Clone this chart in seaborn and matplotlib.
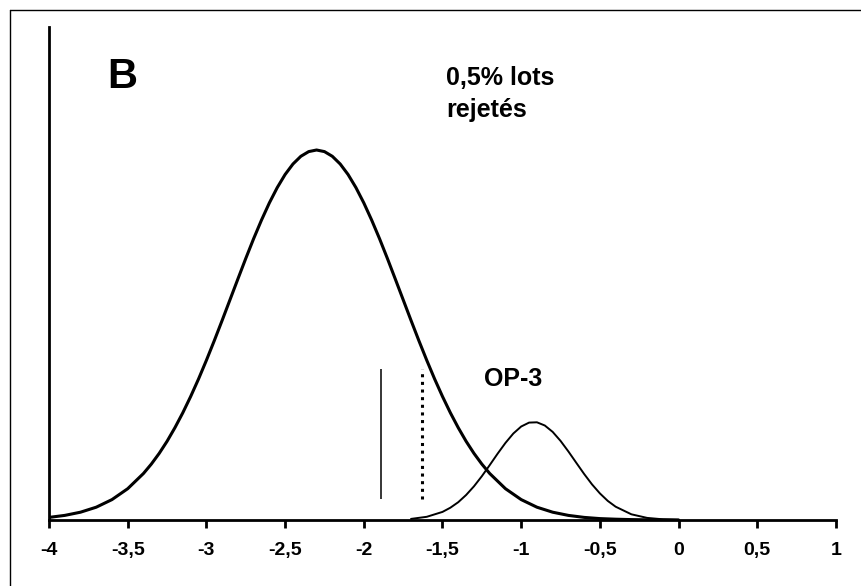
import matplotlib
matplotlib.use("Agg")
import matplotlib.pyplot as plt
from matplotlib.lines import Line2D
import seaborn as sns
import pandas as pd

# Courbe principale (lots)
big_x = [-4.0, -3.9, -3.8, -3.7, -3.6, -3.5, -3.4, -3.35, -3.3, -3.25, -3.2,
         -3.15, -3.1, -3.05, -3.0, -2.95, -2.9, -2.85, -2.8, -2.75, -2.7,
         -2.65, -2.6, -2.55, -2.5, -2.45, -2.4, -2.35, -2.3, -2.25, -2.2,
         -2.15, -2.1, -2.05, -2.0, -1.95, -1.9, -1.85, -1.8, -1.75, -1.7,
         -1.65, -1.6, -1.55, -1.5, -1.45, -1.4, -1.35, -1.3, -1.25, -1.2,
         -1.1, -1.0, -0.9, -0.8, -0.7, -0.6, -0.5, -0.4, -0.3, -0.2, -0.1, 0.0]
big_y = [2.6, 4.6, 7.8, 12.8, 20.4, 31.3, 46.5, 55.9, 66.6, 78.7, 92.3,
         107.2, 123.5, 141.0, 159.7, 179.3, 199.6, 220.3, 241.0, 261.5, 281.3,
         299.9, 317.1, 332.4, 345.5, 356.0, 363.7, 368.4, 370.0, 368.4, 363.7,
         356.0, 345.5, 332.4, 317.1, 299.9, 281.3, 261.5, 241.0, 220.3, 199.6,
         179.3, 159.7, 141.0, 123.5, 107.2, 92.3, 78.7, 66.6, 55.9, 46.5,
         31.3, 20.4, 12.8, 7.8, 4.6, 2.6, 1.4, 0.8, 0.4, 0.2, 0.1, 0.0]

# Courbe OP-3
op3_x = [-1.7, -1.6, -1.5, -1.45, -1.4, -1.35, -1.3, -1.25, -1.2, -1.15, -1.1,
         -1.05, -1.0, -0.95, -0.9, -0.85, -0.8, -0.75, -0.7, -0.65, -0.6,
         -0.55, -0.5, -0.45, -0.4, -0.3, -0.2, -0.1, 0.0]
op3_y = [1.1, 3.2, 8.1, 12.3, 17.8, 25.0, 33.7, 43.8, 54.9, 66.3, 77.1,
         86.5, 93.5, 97.4, 97.7, 94.5, 88.1, 79.1, 68.5, 57.2, 46.0,
         35.6, 26.6, 19.1, 13.3, 5.7, 2.1, 0.7, 0.2]

# Seuils verticaux
seuil_solide = -1.89
seuil_pointille = -1.63
seuil_bas, seuil_haut = 21, 151

xticks = [-4, -3.5, -3, -2.5, -2, -1.5, -1, -0.5, 0, 0.5, 1]
xlabels = ["-4", "-3,5", "-3", "-2,5", "-2", "-1,5", "-1", "-0,5", "0", "0,5", "1"]

sns.set_theme(style="white")
plt.rcParams['font.family'] = ['Liberation Sans', 'DejaVu Sans']
plt.rcParams['font.weight'] = 'bold'
plt.rcParams['text.color'] = 'black'
plt.rcParams['xtick.color'] = 'black'

fig = plt.figure(figsize=(8.62, 5.86), dpi=100)
ax = fig.add_axes([49 / 862, 66 / 586, 787 / 862, 493 / 586])

big = pd.DataFrame({"x": big_x, "y": big_y})
op3 = pd.DataFrame({"x": op3_x, "y": op3_y})
sns.lineplot(data=big, x="x", y="y", ax=ax, color="black", linewidth=2.2, sort=False)
sns.lineplot(data=op3, x="x", y="y", ax=ax, color="black", linewidth=1.4, sort=False)

ax.vlines(seuil_solide, seuil_bas, seuil_haut, color="black", linewidth=1.1)
ax.vlines(seuil_pointille, seuil_bas, seuil_haut, color="black", linewidth=2.2,
          linestyles=(0, (1, 1.5)))

ax.set_xlim(-4, 1)
ax.set_ylim(0, 493)
ax.set_xticks(xticks)
ax.set_xticklabels(xlabels, fontsize=14, fontweight="bold", color="black")
ax.set_yticks([])
ax.set_xlabel("")
ax.set_ylabel("")
ax.tick_params(axis="x", direction="out", length=6, width=2, pad=10, colors="black",
               bottom=True)
for side in ["top", "right"]:
    ax.spines[side].set_visible(False)
for side in ["left", "bottom"]:
    ax.spines[side].set_linewidth(2)
    ax.spines[side].set_color("black")
ax.patch.set_alpha(0)

ax.text(-3.63, 432, "B", fontsize=30, fontweight="bold", color="black",
        va="baseline", ha="left")
ax.text(-1.478, 435, "0,5% lots", fontsize=18, fontweight="bold", color="black",
        va="baseline", ha="left")
ax.text(-1.478, 403, "rejetés", fontsize=18, fontweight="bold", color="black",
        va="baseline", ha="left")
ax.text(-1.236, 134, "OP-3", fontsize=18, fontweight="bold", color="black",
        va="baseline", ha="left")

# cadre de la figure (haut et gauche)
fig.add_artist(Line2D([10 / 862, 1], [1 - 10 / 586, 1 - 10 / 586], color="black", linewidth=1))
fig.add_artist(Line2D([10 / 862, 10 / 862], [0, 1 - 10 / 586], color="black", linewidth=1))

fig.savefig("out.png", dpi=100)
